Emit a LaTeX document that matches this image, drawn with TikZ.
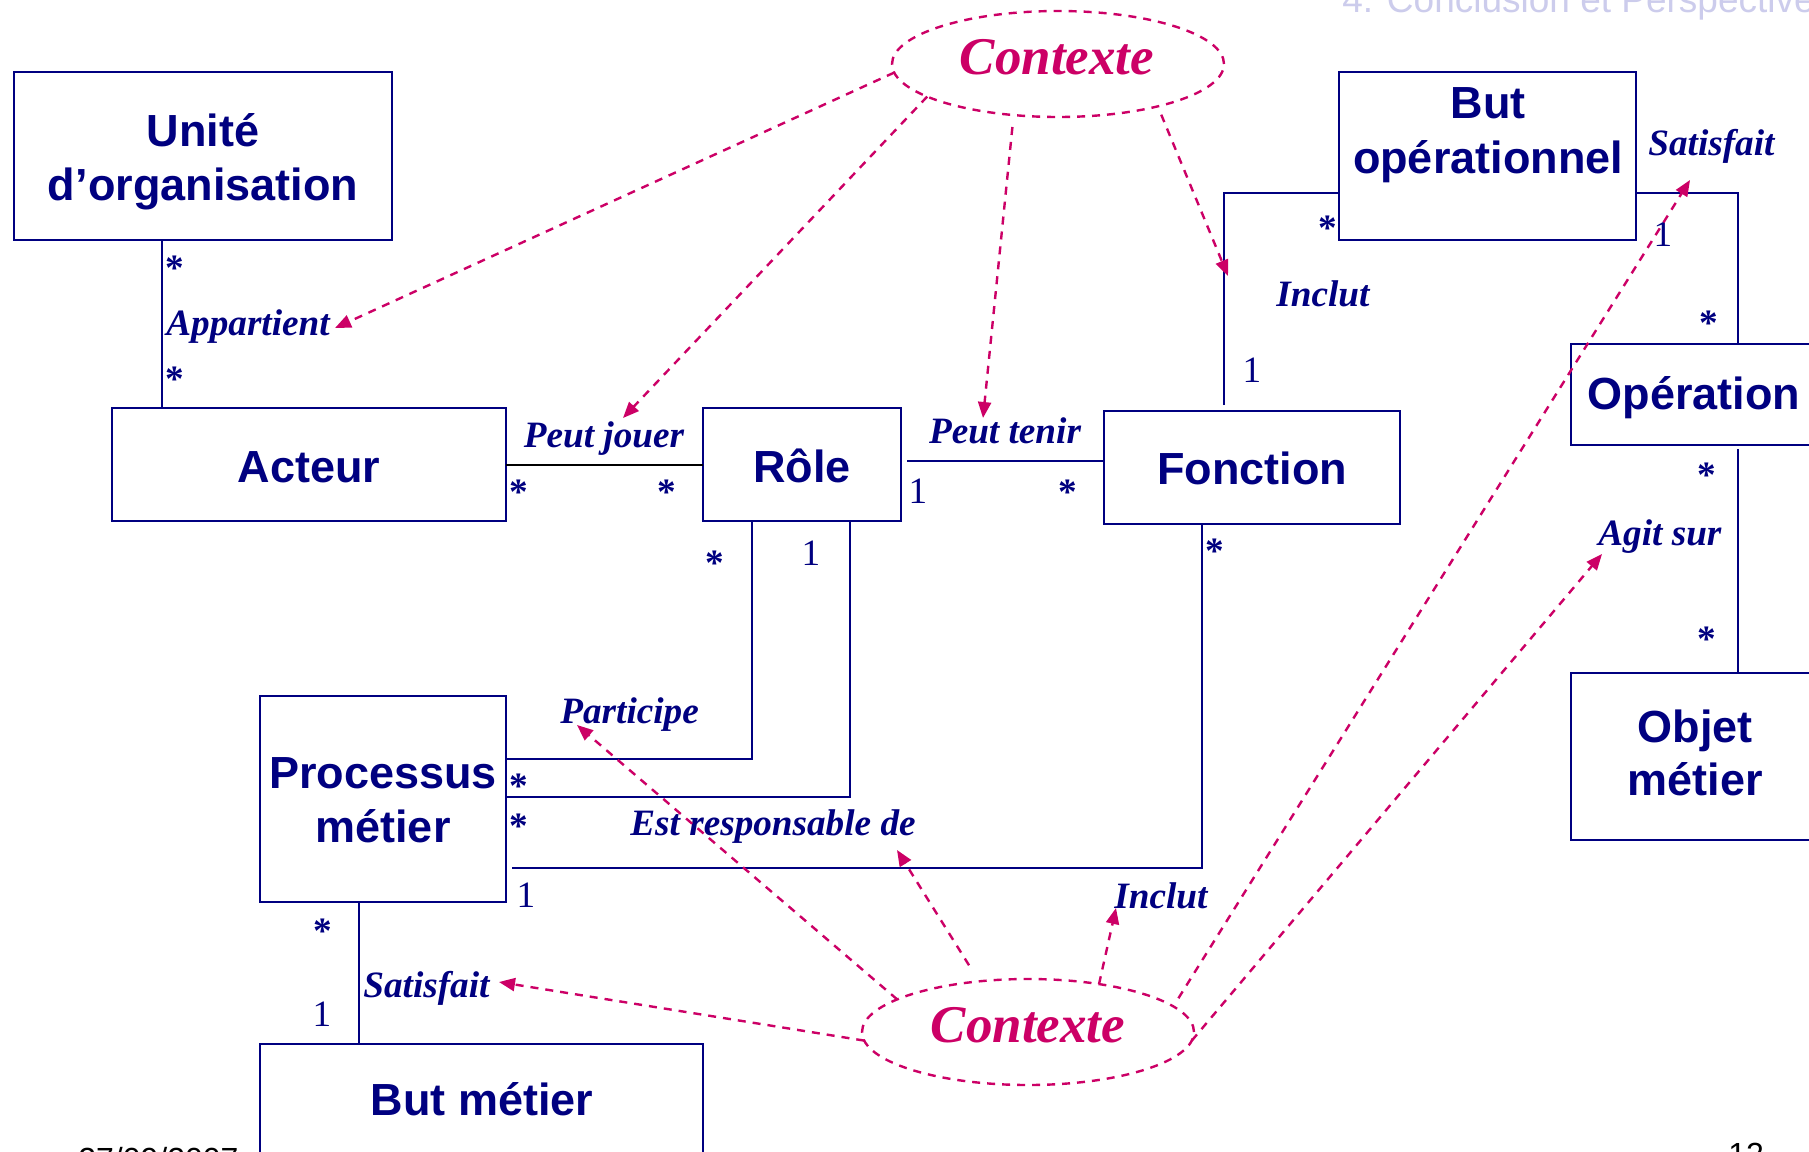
\documentclass[tikz,border=0pt]{standalone}
\usepackage{fontspec}
\setmainfont{Liberation Serif}
\newfontfamily\boxfont{Liberation Sans}
\usetikzlibrary{arrows.meta,fit,shapes.geometric}
\definecolor{umlnavy}{RGB}{0,0,128}
\definecolor{ctxmag}{RGB}{204,0,102}
\definecolor{headlav}{RGB}{204,204,236}

\begin{document}
\begin{tikzpicture}[x=0.5pt,y=-0.5pt,
  box/.style={draw=umlnavy, line width=1.1pt, fill=white, inner sep=0pt, outer sep=0pt},
  boxtext/.style={text=umlnavy, font=\boxfont\bfseries\fontsize{22.5pt}{27pt}\selectfont, anchor=base, inner sep=0pt},
  lbl/.style={text=umlnavy, font=\bfseries\itshape\fontsize{18.6pt}{22pt}\selectfont, anchor=base west, inner sep=0pt},
  mult/.style={text=umlnavy, font=\fontsize{18.6pt}{22pt}\selectfont, anchor=base, inner sep=0pt},
  assoc/.style={draw=umlnavy, line width=0.9pt},
  ctxshape/.style={ellipse, draw=ctxmag, line width=1.2pt, dash pattern=on 4pt off 3.5pt,
    minimum width=166pt, minimum height=53pt, inner sep=0pt, outer sep=0pt},
  ctxtext/.style={text=ctxmag, font=\bfseries\itshape\fontsize{26.5pt}{30pt}\selectfont, anchor=base, inner sep=0pt},
  ctxarrow/.style={draw=ctxmag, line width=1.2pt, dash pattern=on 4pt off 3.5pt,
    -{Triangle[length=8pt,width=6.5pt]}},
  slide/.style={font=\boxfont\fontsize{16pt}{19pt}\selectfont, anchor=base west, inner sep=0pt}
]
\useasboundingbox (0,0) rectangle (1809,1151);
\fill[white] (0,0) rectangle (1809,1151);
\clip (0,0) rectangle (1809,1151);

% slide header and footer
\node[slide, text=headlav, font=\boxfont\fontsize{18.5pt}{22pt}\selectfont] (header) at (1342,12) {4. Conclusion et Perspective};
\node[slide, text=black] (date) at (78,1170) {27/09/2007};
\node[slide, text=black] (pagenum) at (1728,1165) {12};

% classes
\node[box, fit={(14,72) (392,240)}] (unite) {};
\node[box, fit={(112,408) (506,521)}] (acteur) {};
\node[box, fit={(703,408) (901,521)}] (role) {};
\node[box, fit={(1104,411) (1400,524)}] (fonction) {};
\node[box, fit={(1339,72) (1636,240)}] (butop) {};
\node[box, fit={(1571,344) (1817,445)}] (operation) {};
\node[box, fit={(1571,673) (1817,840)}] (objet) {};
\node[box, fit={(260,696) (506,902)}] (processus) {};
\node[box, fit={(260,1044) (703,1200)}] (butmetier) {};

% class names
\node[boxtext] (unite-a) at (203,146) {Unité};
\node[boxtext] (unite-b) at (203,200) {d’organisation};
\node[boxtext] (acteur-a) at (309,482) {Acteur};
\node[boxtext] (role-a) at (802,482) {Rôle};
\node[boxtext] (fonction-a) at (1252,484) {Fonction};
\node[boxtext] (butop-a) at (1488,118) {But};
\node[boxtext] (butop-b) at (1488,173) {opérationnel};
\node[boxtext] (operation-a) at (1694,409) {Opération};
\node[boxtext] (objet-a) at (1695,742) {Objet};
\node[boxtext] (objet-b) at (1695,795) {métier};
\node[boxtext] (processus-a) at (383,788) {Processus};
\node[boxtext] (processus-b) at (383,842) {métier};
\node[boxtext] (butmetier-a) at (482,1115) {But métier};

% associations
\draw[assoc] (unite.south -| 162,0) -- (acteur.north -| 162,0);
\draw[assoc, draw=black] (acteur.east |- 0,465) -- (role.west |- 0,465);
\draw[assoc, shorten <=3pt] (role.east |- 0,461) -- (fonction.west |- 0,461);
\draw[assoc, shorten <=3pt] (fonction.north -| 1224,0) |- (butop.west |- 0,193);
\draw[assoc] (butop.east |- 0,193) -| (operation.north -| 1738,0);
\draw[assoc, shorten <=2pt] (operation.south -| 1738,0) -- (objet.north -| 1738,0);
\draw[assoc] (role.south -| 752,0) |- (processus.east |- 0,759);
\draw[assoc] (role.south -| 850,0) |- (processus.east |- 0,797);
\draw[assoc, shorten >=3pt] (fonction.south -| 1202,0) |- (processus.east |- 0,868);
\draw[assoc] (processus.south -| 359,0) -- (butmetier.north -| 359,0);

% association names
\node[lbl] (l-appartient) at (166,335) {Appartient};
\node[lbl, anchor=base] (l-peutjouer) at (604,447) {Peut jouer};
\node[lbl, anchor=base] (l-peuttenir) at (1005,443) {Peut tenir};
\node[lbl] (l-inclut1) at (1276,306) {Inclut};
\node[lbl] (l-satisfait1) at (1648,155) {Satisfait};
\node[lbl] (l-agitsur) at (1598,545) {Agit sur};
\node[lbl] (l-participe) at (560,723) {Participe};
\node[lbl] (l-estresp) at (630,835) {Est responsable de};
\node[lbl] (l-inclut2) at (1114,908) {Inclut};
\node[lbl] (l-satisfait2) at (363,997) {Satisfait};

% multiplicities
\node[mult] (m1) at (175,280) {\textbf{*}};
\node[mult] (m2) at (175,391) {\textbf{*}};
\node[mult] (m3) at (519,504) {\textbf{*}};
\node[mult] (m4) at (667,504) {\textbf{*}};
\node[mult] (m5) at (918,503) {1};
\node[mult] (m6) at (1068,504) {\textbf{*}};
\node[mult] (m7) at (1328,240) {\textbf{*}};
\node[mult] (m8) at (1252,382) {1};
\node[mult] (m9) at (1709,335) {\textbf{*}};
\node[mult] (m10) at (1663,246) {1};
\node[mult] (m11) at (1707,487) {\textbf{*}};
\node[mult] (m12) at (1707,651) {\textbf{*}};
\node[mult] (m13) at (715,575) {\textbf{*}};
\node[mult] (m14) at (811,565) {1};
\node[mult] (m15) at (519,798) {\textbf{*}};
\node[mult] (m16) at (519,838) {\textbf{*}};
\node[mult] (m17) at (526,907) {1};
\node[mult] (m18) at (1215,563) {\textbf{*}};
\node[mult] (m19) at (323,943) {\textbf{*}};
\node[mult] (m20) at (322,1026) {1};

% context ellipses
\node[ctxshape] (ctxA) at (1058,64) {};
\node[ctxtext] (ctxA-t) at (1057,74) {Contexte};
\node[ctxshape] (ctxB) at (1028,1032) {};
\node[ctxtext] (ctxB-t) at (1028,1042) {Contexte};

% arrow targets next to the association names
\coordinate (tipA1) at (335,328);
\coordinate (tipA2) at (623,418);
\coordinate (tipA3) at (983,418);
\coordinate (tipA4) at (1228,276);
\coordinate (tipB1) at (577,725);
\coordinate (tipB2) at (897,850);
\coordinate (tipB3) at (1116,908);
\coordinate (tipB4) at (499,982);
\coordinate (tipB5) at (1690,180);
\coordinate (tipB6) at (1602,554);

% context dependencies
\draw[ctxarrow] (ctxA.183) -- (tipA1);
\draw[ctxarrow] (ctxA.194) -- (tipA2);
\draw[ctxarrow, shorten <=6pt] (ctxA.229) -- (tipA3);
\draw[ctxarrow, shorten <=4.5pt] (ctxA.337.5) -- (tipA4);
\draw[ctxarrow] (ctxB.166) -- (tipB1);
\draw[ctxarrow, shorten <=9.5pt] (ctxB.134.7) -- (tipB2);
\draw[ctxarrow] (ctxB.34) -- (tipB3);
\draw[ctxarrow] (ctxB.183) -- (tipB4);
\draw[ctxarrow, shorten <=4.8pt] (ctxB.10) -- (tipB5);
\draw[ctxarrow] (ctxB.357) -- (tipB6);
\end{tikzpicture}
\end{document}
